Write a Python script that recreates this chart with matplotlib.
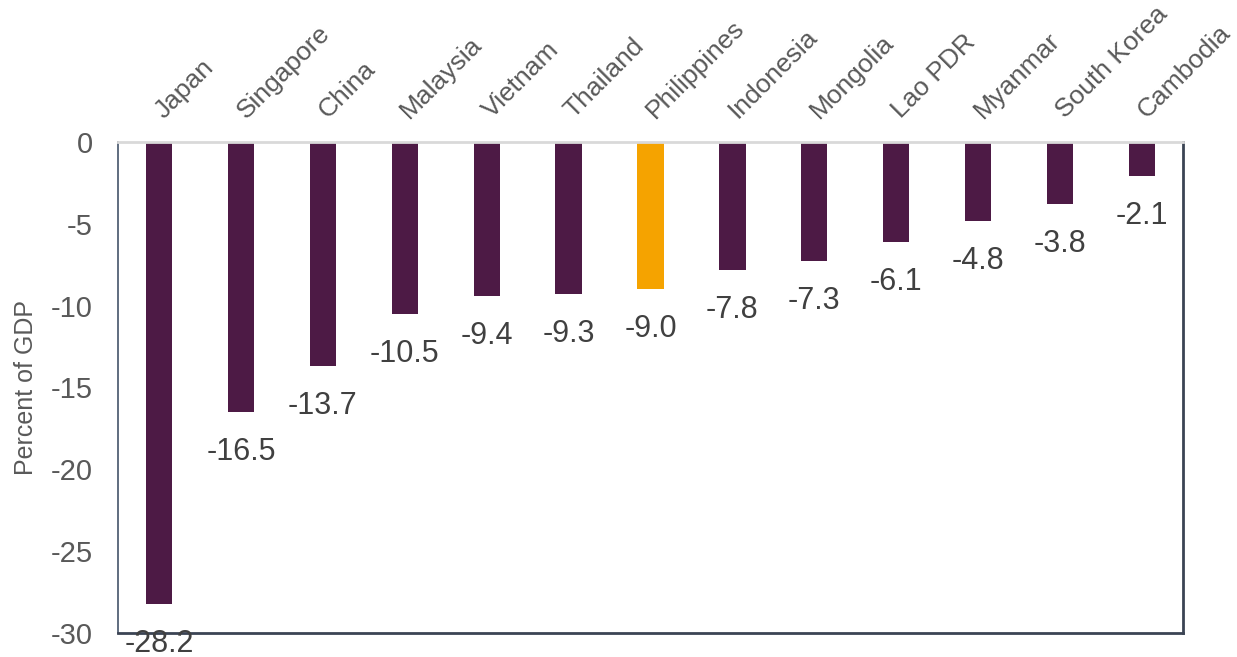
import matplotlib.pyplot as plt
import numpy as np

plt.rcParams['font.family'] = ['Liberation Sans', 'DejaVu Sans']
plt.rcParams['axes.unicode_minus'] = False

paises = ["Japan", "Singapore", "China", "Malaysia", "Vietnam", "Thailand",
          "Philippines", "Indonesia", "Mongolia", "Lao PDR", "Myanmar",
          "South Korea", "Cambodia"]
valores = [-28.2, -16.5, -13.7, -10.5, -9.4, -9.3, -9.0, -7.8, -7.3, -6.1, -4.8, -3.8, -2.1]
resaltado = "Philippines"

morado = "#4D1A45"
naranja = "#F5A300"
gris = "#595959"

fig = plt.figure(figsize=(12.37, 6.57), dpi=100)
ax = fig.add_axes([0.0954, 0.0365, 0.8609, 0.7474])

x = np.arange(len(paises))
colores = [naranja if p == resaltado else morado for p in paises]
ax.bar(x, valores, width=0.32, color=colores, zorder=2)

# etiquetas de valor debajo de cada barra
for xi, v in zip(x, valores):
    ax.annotate(f"{v:.1f}", (xi, v), xytext=(0, -18), textcoords="offset points",
                ha="center", va="top", fontsize=22, color="#404040")

ax.set_xlim(-0.5, len(paises) - 0.5)
ax.set_ylim(-30, 0)
ax.set_yticks([0, -5, -10, -15, -20, -25, -30])
ax.tick_params(axis="y", length=0, pad=18, labelsize=21, labelcolor=gris)

# nombres de los paises arriba, inclinados
ax.xaxis.tick_top()
ax.set_xticks(x)
ax.set_xticklabels(paises, rotation=45, ha="left", va="center",
                   rotation_mode="anchor", fontsize=19, color=gris)
ax.tick_params(axis="x", length=0, pad=20)

ax.set_ylabel("Percent of GDP", fontsize=18, color=gris, labelpad=9)

ax.spines["top"].set_color("#D9D9D9")
ax.spines["top"].set_linewidth(2)
ax.spines["left"].set_color("#44546A")
ax.spines["left"].set_linewidth(1.2)
ax.spines["right"].set_color("#3B4454")
ax.spines["right"].set_linewidth(2)
ax.spines["bottom"].set_color("#3B4454")
ax.spines["bottom"].set_linewidth(2)

plt.savefig("out.png", dpi=100)
